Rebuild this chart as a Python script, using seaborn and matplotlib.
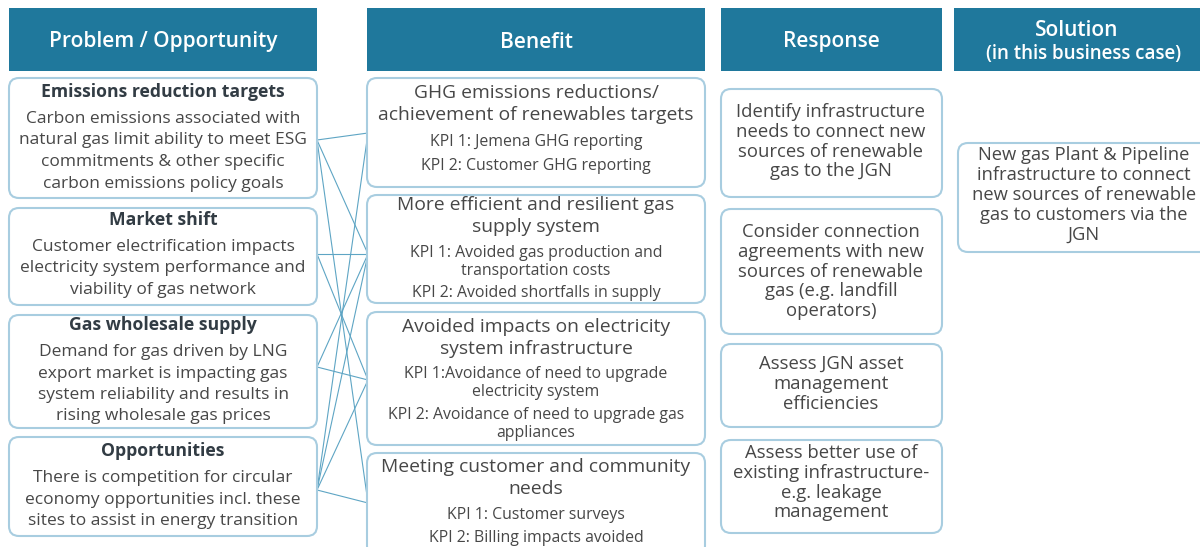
import matplotlib
matplotlib.use("Agg")
import matplotlib.pyplot as plt
from matplotlib.patches import FancyBboxPatch, Rectangle
import pandas as pd
import seaborn as sns

# column headers
headers = ["Problem / Opportunity", "Benefit", "Response", "Solution\n(in this business case)"]

# problem / opportunity boxes
problem_titles = ["Emissions reduction targets", "Market shift", "Gas wholesale supply", "Opportunities"]
problem_texts = [
    ["Carbon emissions associated with", "natural gas limit ability to meet ESG",
     "commitments & other specific", "carbon emissions policy goals"],
    ["Customer electrification impacts", "electricity system performance and",
     "viability of gas network"],
    ["Demand for gas driven by LNG", "export market is impacting gas",
     "system reliability and results in", "rising wholesale gas prices"],
    ["There is competition for circular", "economy opportunities incl. these",
     "sites to assist in energy transition"],
]

# benefit boxes
benefit_titles = [
    ["GHG emissions reductions/", "achievement of renewables targets"],
    ["More efficient and resilient gas", "supply system"],
    ["Avoided impacts on electricity", "system infrastructure"],
    ["Meeting customer and community", "needs"],
]
benefit_kpis = [
    [["KPI 1: Jemena GHG reporting"], ["KPI 2: Customer GHG reporting"]],
    [["KPI 1: Avoided gas production and", "transportation costs"], ["KPI 2: Avoided shortfalls in supply"]],
    [["KPI 1:Avoidance of need to upgrade", "electricity system"],
     ["KPI 2: Avoidance of need to upgrade gas", "appliances"]],
    [["KPI 1: Customer surveys"], ["KPI 2: Billing impacts avoided"]],
]

# response boxes
responses = [
    ["Identify infrastructure", "needs to connect new", "sources of renewable", "gas to the JGN"],
    ["Consider connection", "agreements with new", "sources of renewable", "gas (e.g. landfill", "operators)"],
    ["Assess JGN asset", "management", "efficiencies"],
    ["Assess better use of", "existing infrastructure-", "e.g. leakage", "management"],
]

# solution box
solution = ["New gas Plant & Pipeline", "infrastructure to connect", "new sources of renewable",
            "gas to customers via the", "JGN"]

# links problem -> benefit
link_from = [0, 0, 0, 1, 1, 2, 2, 3, 3, 3, 3]
link_to = [0, 1, 3, 1, 2, 1, 2, 0, 1, 2, 3]

# ---- styling / layout ----
HEAD = "#1f789c"
EDGE = "#a8cde0"
LINK = "#5ea5c4"
TXT = "#474747"
BOLD = "#323c44"
FONT = "Open Sans"

sns.set_theme(style="white")
plt.rcParams["font.family"] = [FONT, "DejaVu Sans"]

fig = plt.figure(figsize=(12, 5.47), dpi=100)
ax = fig.add_axes([0, 0, 1, 1])


def rbox(x0, y0, x1, y1):
    ax.add_patch(FancyBboxPatch((x0, y0), x1 - x0, y1 - y0,
                                boxstyle="round,pad=0,rounding_size=10",
                                fc="white", ec=EDGE, lw=1.5, zorder=2))


def put(xc, y0, lines, step, size, color=TXT, weight="normal"):
    for i, s in enumerate(lines):
        ax.text(xc, y0 + i * step, s, ha="center", va="center", fontsize=size,
                color=color, fontweight=weight, zorder=4)


# links (drawn with seaborn)
left_y = [140, 254, 367, 490]
right_y = [133, 254, 380, 503]
rows = []
for k, (a, b) in enumerate(zip(link_from, link_to)):
    rows.append({"x": 317, "y": left_y[a], "link": k})
    rows.append({"x": 368, "y": right_y[b], "link": k})
links = pd.DataFrame(rows)
sns.lineplot(data=links, x="x", y="y", units="link", estimator=None, sort=False,
             color=LINK, lw=0.8, ax=ax, zorder=1)
ax.set_xlim(0, 1200)
ax.set_ylim(547, 0)
ax.axis("off")

# headers
head_x = [(9, 317), (367, 705), (721, 942), (954, 1210)]
for (x0, x1), h in zip(head_x, headers):
    ax.add_patch(Rectangle((x0, 8), x1 - x0, 63, fc=HEAD, ec="none", zorder=2))
    lines = h.split("\n")
    if len(lines) == 1:
        put((x0 + x1) / 2, 42, lines, 0, 15, "white", "semibold")
    else:
        put(1077, 30, lines[:1], 0, 15, "white", "semibold")
        put(1084, 54, lines[1:], 0, 13.5, "white", "semibold")

# problem column
p_box = [(78, 198), (208, 305), (315, 428), (437, 536)]
p_title_y = [92, 220, 325, 451]
for (y0, y1), ty, t, body in zip(p_box, p_title_y, problem_titles, problem_texts):
    rbox(9, y0, 317, y1)
    put(163, ty, [t], 0, 12.7, BOLD, "bold")
    put(163, ty + 27, body, 21.5, 12.5)

# benefit column
b_box = [(78, 187), (195, 303), (312, 445), (453, 556)]
b_title_y = [93, 205, 327, 467]
b_kpi_y = [[142, 166], [253, 293], [374, 415], [515, 538]]
for (y0, y1), ty, t, kp, ky in zip(b_box, b_title_y, benefit_titles, benefit_kpis, b_kpi_y):
    rbox(367, y0, 705, y1)
    put(536, ty, t, 21.5, 13.9)
    for lines, yy in zip(kp, ky):
        put(536, yy, lines, 18, 11.4)

# response column
r_box = [(89, 197), (209, 334), (344, 427), (440, 533)]
r_y = [112, 232, 364, 453]
for (y0, y1), yy, lines in zip(r_box, r_y, responses):
    rbox(721, y0, 942, y1)
    put(831, yy, lines, 19.8, 13.3)

# solution column
rbox(958, 143, 1215, 252)
put(1084, 155, solution, 20, 13.2)

fig.savefig("out.png", dpi=100)
